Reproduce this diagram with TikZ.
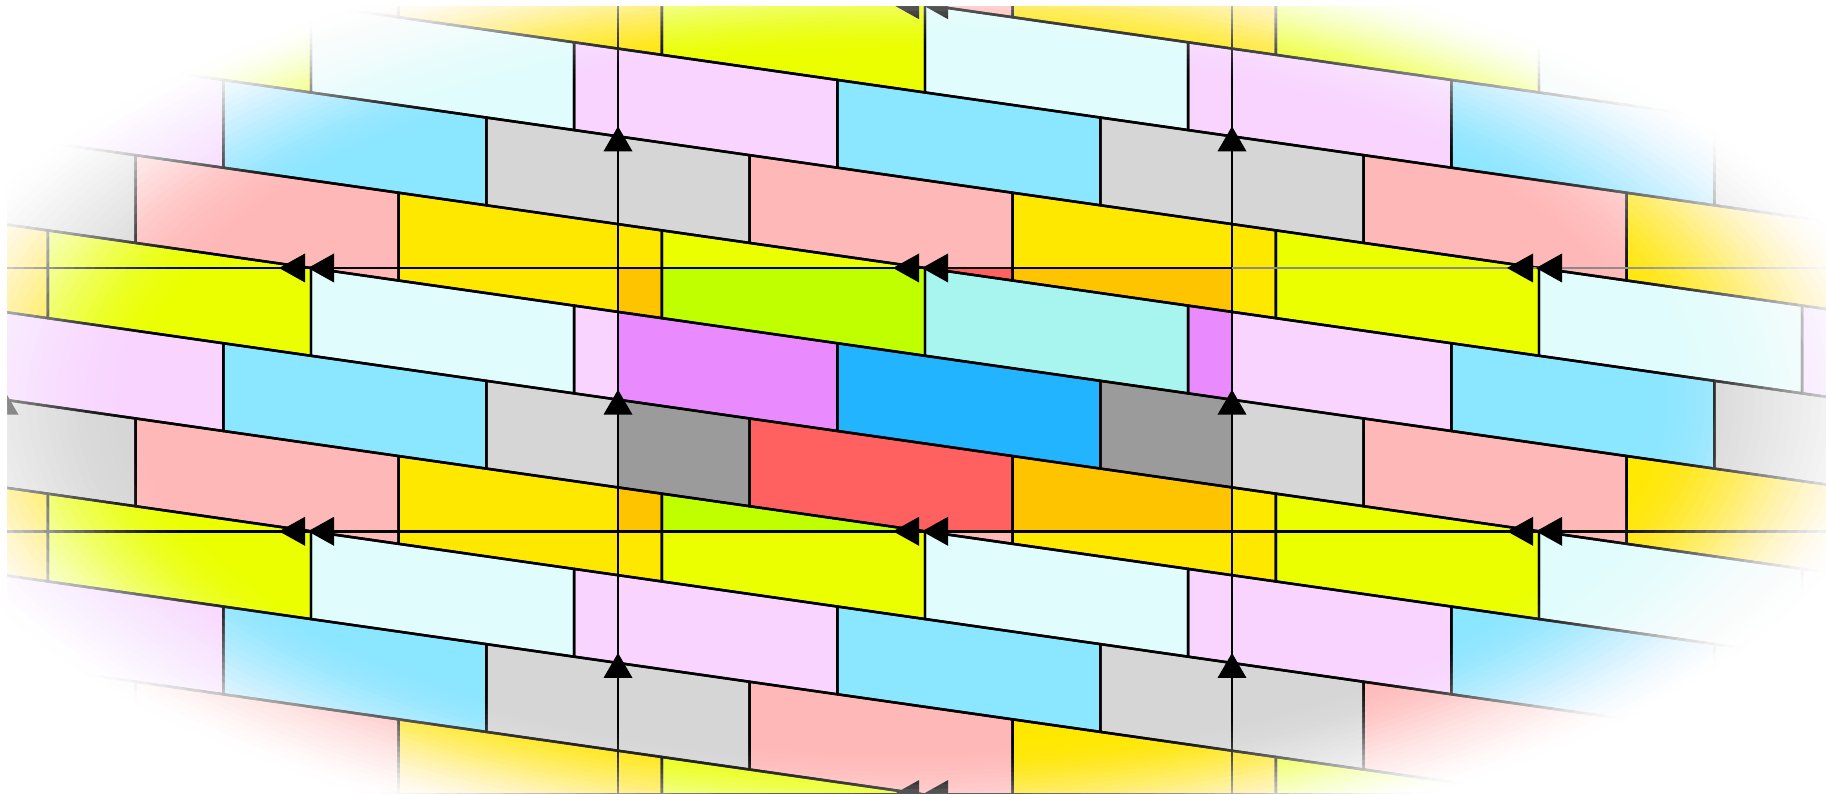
\documentclass[tikz,border=0pt]{standalone}
\definecolor{s0}{HTML}{A8F5F0}
\definecolor{s1}{HTML}{E98BFF}
\definecolor{s2}{HTML}{22B4FF}
\definecolor{s3}{HTML}{9B9B9B}
\definecolor{s4}{HTML}{FF6060}
\definecolor{s5}{HTML}{FFC400}
\definecolor{s6}{HTML}{C0FF00}
\definecolor{p0}{HTML}{E0FCFC}
\definecolor{p1}{HTML}{F8D4FF}
\definecolor{p2}{HTML}{8BE6FF}
\definecolor{p3}{HTML}{D6D6D6}
\definecolor{p4}{HTML}{FFB8B8}
\definecolor{p5}{HTML}{FFE800}
\definecolor{p6}{HTML}{EBFF00}
\definecolor{latgray}{HTML}{8A8A8A}
\pgfmathsetmacro{\Xo}{618}
\pgfmathsetmacro{\Yo}{268}
\pgfmathsetmacro{\Px}{614}
\pgfmathsetmacro{\Py}{263.3}
\pgfmathsetmacro{\Wb}{3*\Px/7}
\pgfmathsetmacro{\hh}{\Py/3}
\pgfmathsetmacro{\sl}{\hh/\Px}
\pgfmathsetmacro{\Yc}{\Yo+\Py/2}
\newcommand{\brickloop}[1]{%
  \foreach \k in {-8,...,6}{%
    \pgfmathsetmacro{\offs}{\Xo+\Px/2-(\k+2)*\Px}%
    \pgfmathtruncatemacro{\nmin}{floor((-\Wb-\offs)/\Wb)}%
    \pgfmathtruncatemacro{\nmax}{ceil((1826-\offs)/\Wb)}%
    \foreach \n in {\nmin,...,\nmax}{%
      \pgfmathsetmacro{\xa}{\offs+\n*\Wb}%
      \pgfmathsetmacro{\xb}{\xa+\Wb}%
      \pgfmathsetmacro{\ya}{\Yc+\sl*(\xa-\Xo)+\k*\hh}%
      \pgfmathsetmacro{\yb}{\Yc+\sl*(\xb-\Xo)+\k*\hh}%
      \pgfmathsetmacro{\yc}{\ya+\hh}%
      \pgfmathsetmacro{\yd}{\yb+\hh}%
      \pgfmathtruncatemacro{\ci}{mod(mod(\n,7)+7,7)}%
      #1
    }%
  }%
}
\tikzset{
  edge/.style={line width=0.7pt, line join=round},
  lat/.style={line width=0.75pt},
  tipfill/.style={fill=black}
}
\begin{document}
\begin{tikzpicture}[x=0.01cm,y=-0.01cm]
\useasboundingbox (0,0) rectangle (1826,794);
% pale tiling
\brickloop{\fill[p\ci] (\xa,\ya) -- (\xb,\yb) -- (\xb,\yd) -- (\xa,\yc) -- cycle;}
% saturated fundamental domain
\begin{scope}
  \clip (\Xo,\Yo) rectangle (\Xo+\Px,\Yo+\Py);
  \brickloop{\fill[s\ci] (\xa,\ya) -- (\xb,\yb) -- (\xb,\yd) -- (\xa,\yc) -- cycle;}
\end{scope}
% brick outlines
\brickloop{\draw[edge] (\xa,\ya) -- (\xb,\yb) -- (\xb,\yd) -- (\xa,\yc) -- cycle;}
% lattice lines
\foreach \m in {-1,0,1,2}{
  \draw[lat] (\Xo+\m*\Px,-10) -- (\Xo+\m*\Px,804);
}
\foreach \j in {-1,1,2}{
  \draw[lat] (-10,\Yo+\j*\Py) -- (1836,\Yo+\j*\Py);
}
\draw[lat] (-10,\Yo) -- (\Xo+\Px,\Yo);
\draw[lat, latgray] (\Xo+\Px,\Yo) -- (1836,\Yo);
% single arrowheads (up) on vertical lines
\foreach \m in {-1,0,1,2}{
  \foreach \j in {-1,0,1}{
    \pgfmathsetmacro{\ax}{\Xo+\m*\Px}
    \pgfmathsetmacro{\ay}{\Yc+\j*\Py}
    \fill[tipfill] (\ax,\ay-10) -- (\ax-14.5,\ay+15) -- (\ax+14.5,\ay+15) -- cycle;
  }
}
% double arrowheads (left) on horizontal lines
\foreach \m in {-1,0,1,2}{
  \foreach \j in {-1,0,1,2}{
    \pgfmathsetmacro{\bx}{\Xo+\Px/2+\m*\Px}
    \pgfmathsetmacro{\by}{\Yo+\j*\Py}
    \fill[tipfill] (\bx-32,\by) -- (\bx-6,\by-14.5) -- (\bx-6,\by+14.5) -- cycle;
    \fill[tipfill] (\bx-3,\by) -- (\bx+23,\by-14.5) -- (\bx+23,\by+14.5) -- cycle;
  }
}
% white elliptical vignette built from stacked translucent layers
\pgfmathsetmacro{\rA}{0.83}
\pgfmathsetmacro{\rB}{1.12}
\foreach \m in {1,...,28}{
  \pgfmathsetmacro{\tp}{(\m-1)/28}
  \pgfmathsetmacro{\tc}{\m/28}
  \pgfmathsetmacro{\Tp}{3*\tp*\tp-2*\tp*\tp*\tp}
  \pgfmathsetmacro{\Tc}{3*\tc*\tc-2*\tc*\tc*\tc}
  \pgfmathsetmacro{\al}{min(1,(\Tc-\Tp)/max(0.0001,1-\Tp))}
  \pgfmathsetmacro{\rr}{\rA+(\m-1)*(\rB-\rA)/27}
  \pgfmathsetmacro{\rx}{8.95*\rr}
  \pgfmathsetmacro{\ry}{4.15*\rr}
  \fill[white, fill opacity=\al, even odd rule] (-300,-300) rectangle (2126,1094)
    (895,400) ellipse [x radius=\rx cm, y radius=\ry cm];
}
% thin white margins at left and top
\fill[white] (0,0) rectangle (7,794);
\fill[white] (0,0) rectangle (1826,6);
\end{tikzpicture}
\end{document}
